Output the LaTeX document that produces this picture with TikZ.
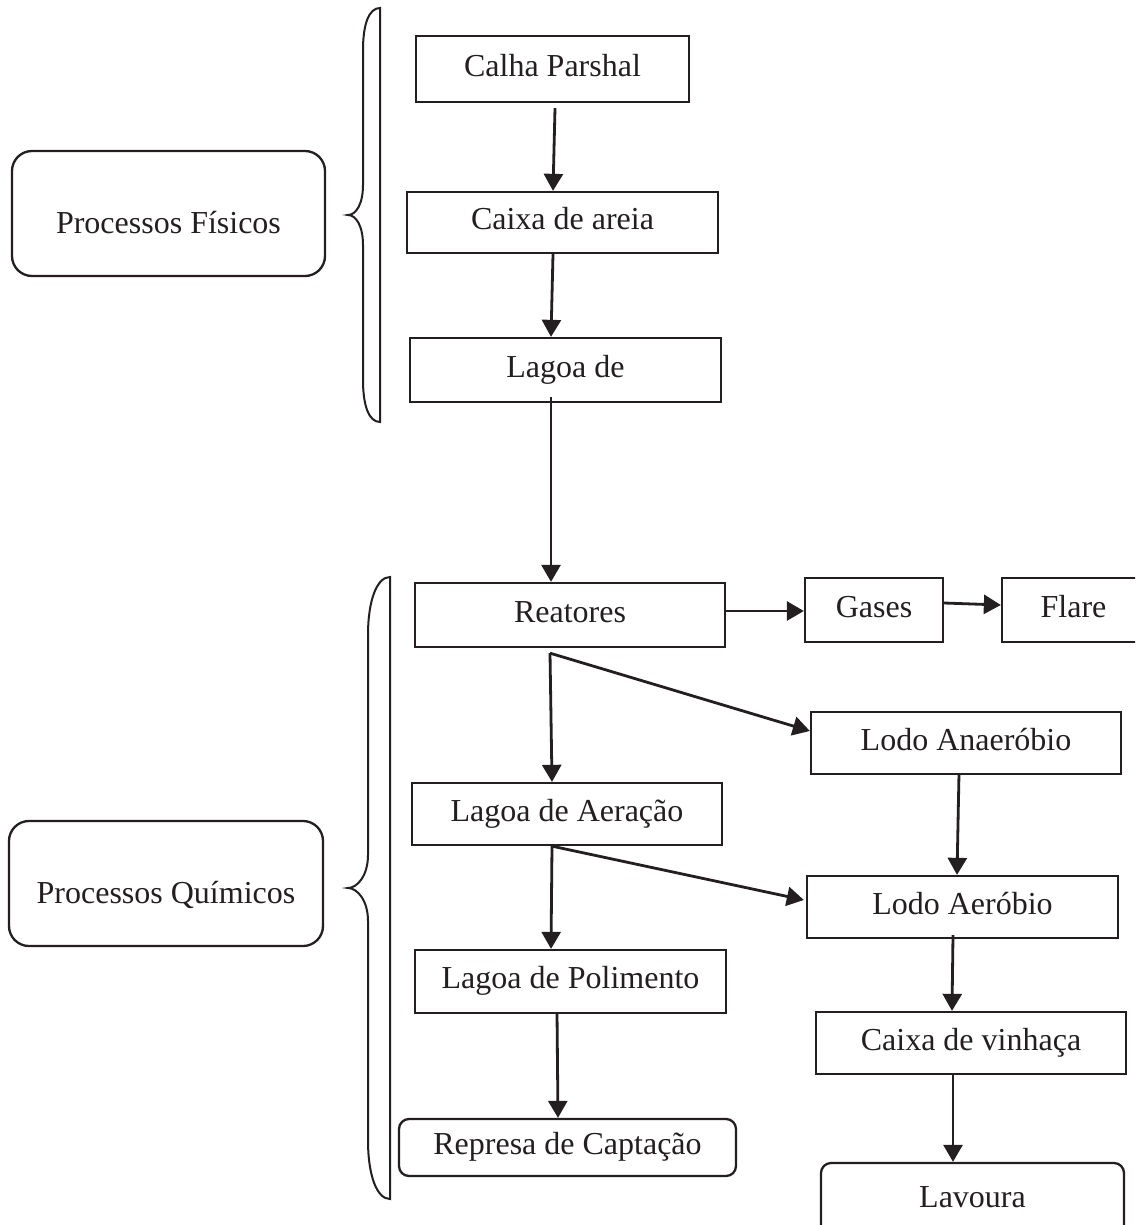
\documentclass[tikz,border=0pt]{standalone}
\usepackage{fontspec}
\setmainfont{Liberation Serif}
\usetikzlibrary{arrows.meta,calc}
\definecolor{ink}{HTML}{231F20}
\begin{document}
\begin{tikzpicture}[x=1pt,y=-1pt,
  box/.style={draw=ink,line width=2.3pt,rectangle,inner sep=0pt,
    font=\fontsize{32}{38}\selectfont,text=ink,text height=22.4pt,text depth=8pt},
  rbox/.style={box,rounded corners=10pt},
  side/.style={box,rounded corners=20pt,minimum width=313pt,minimum height=125pt,text height=39pt,text depth=0pt},
  arr/.style={draw=ink,line width=2.8pt,-{Triangle[length=17pt,width=19pt]}},
  brace/.style={draw=ink,line width=2pt}]
\useasboundingbox (0,0) rectangle (1135,1225);
\clip (0,0) rectangle (1135,1225);
\fill[white] (0,0) rectangle (1135,1225);

% process nodes
\node[box,minimum width=273pt,minimum height=66pt] (calha) at (552.5,69) {Calha Parshal};
\node[box,minimum width=311pt,minimum height=61pt] (caixa) at (562.5,222.5) {Caixa de areia};
\node[box,minimum width=311pt,minimum height=64pt] (lagoa) at (565.5,370) {Lagoa de};
\node[box,minimum width=310pt,minimum height=64pt] (reat) at (570,615) {Reatores};
\node[box,minimum width=138pt,minimum height=64pt] (gases) at (874,610) {Gases};
\node[box,minimum width=143pt,minimum height=64pt] (flare) at (1073.5,610) {Flare};
\node[box,minimum width=310pt,minimum height=62pt] (anaer) at (966,743) {Lodo Anaeróbio};
\node[box,minimum width=310pt,minimum height=62pt] (aerac) at (567,814) {Lagoa de Aeração};
\node[box,minimum width=311pt,minimum height=62pt] (aerob) at (962.5,907) {Lodo Aeróbio};
\node[box,minimum width=311pt,minimum height=63pt] (polim) at (570.5,981.5) {Lagoa de Polimento};
\node[box,minimum width=310pt,minimum height=62pt] (vinh) at (971,1043) {Caixa de vinhaça};
\node[rbox,minimum width=337pt,minimum height=57pt] (represa) at (567.5,1147.5) {Represa de Captação};
\node[rbox,minimum width=303pt,minimum height=74pt] (lavoura) at (972.5,1200) {Lavoura};

% side labels
\node[side] (fis) at (168.5,213.5) {Processos Físicos};
\node[side,minimum width=314pt] (quim) at (166,883.5) {Processos Químicos};

% braces
\draw[brace] (380,8) .. controls (369,8) and (363,24) .. (363,50)
  -- (363,185) .. controls (363,204) and (356,215) .. (348,215)
  .. controls (356,215) and (363,226) .. (363,245)
  -- (363,380) .. controls (363,406) and (369,422) .. (380,422) -- cycle;
\draw[brace] (390,577) .. controls (377,577) and (368,600) .. (368,635)
  -- (368,855) .. controls (368,876) and (357,888) .. (348,888)
  .. controls (357,888) and (368,900) .. (368,921)
  -- (368,1140) .. controls (368,1176) and (377,1199) .. (390,1199) -- cycle;

% connectors
\draw[arr] ($(calha.south)+(2.5,5)$) -- ($(caixa.north)+(-9.5,0)$);
\draw[arr] ($(caixa.south)+(-9.5,0)$) -- ($(lagoa.north)+(-14.5,0)$);
\draw[arr] ($(lagoa.south)+(-14.5,-6)$) -- ($(reat.north)+(-19,0)$);
\draw[arr] ($(reat.east)+(0,-4)$) -- ($(gases.west)+(0,1)$);
\draw[arr] ($(gases.east)+(0,-7)$) -- ($(flare.west)+(0,-5)$);
\draw[arr] ($(reat.south)+(-20,5)$) -- ($(aerac.north)+(-15,0)$);
\draw[arr] ($(reat.south)+(-20,5)$) -- ($(anaer.west)+(0,-12)$);
\draw[arr] ($(anaer.south)+(-7,-2)$) -- ($(aerob.north)+(-5.5,0)$);
\draw[arr] ($(aerac.south)+(-15,0)$) -- ($(polim.north)+(-19.5,0)$);
\draw[arr] ($(aerac.south)+(-15,0)$) -- ($(aerob.west)+(-2,-7)$);
\draw[arr] ($(aerob.south)+(-9.5,-4)$) -- ($(vinh.north)+(-19,0)$);
\draw[arr] ($(polim.south)+(-13.5,-2)$) -- ($(represa.north)+(-9.5,0)$);
\draw[arr] ($(vinh.south)+(-18,-2)$) -- ($(lavoura.north)+(-19.5,0)$);
\end{tikzpicture}
\end{document}
